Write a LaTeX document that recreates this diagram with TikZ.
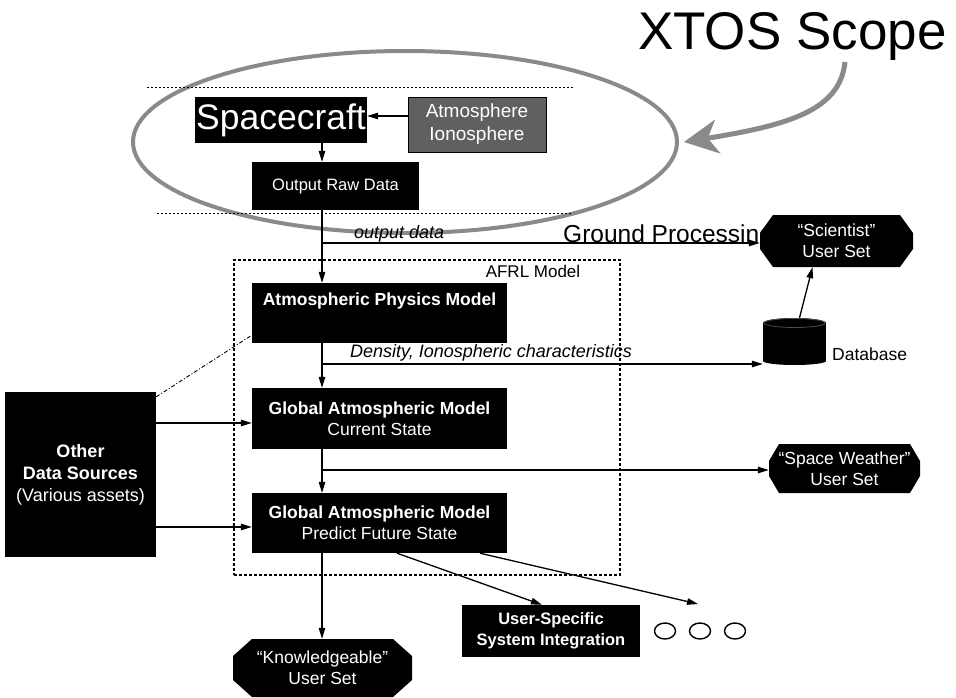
\documentclass[tikz,border=0pt]{standalone}
\usepackage{fontspec}
\setmainfont{Liberation Sans}
\usetikzlibrary{arrows.meta,calc,shapes.geometric}

\definecolor{scopegray}{RGB}{138,138,138}
\definecolor{atmgray}{RGB}{96,96,96}

\tikzset{
  txt/.style={font=\fontsize{17.5}{21}\selectfont},
  blk/.style={fill=black, text=white, inner sep=0pt, align=center, txt},
  usr/.style 2 args={inner sep=0pt, text=white, align=center, txt,
    path picture={\fill[black]
      ([xshift=#1]path picture bounding box.north west) --
      ([xshift=-#1]path picture bounding box.north east) --
      ([yshift=-#2]path picture bounding box.north east) --
      ([yshift=#2]path picture bounding box.south east) --
      ([xshift=-#1]path picture bounding box.south east) --
      ([xshift=#1]path picture bounding box.south west) --
      ([yshift=#2]path picture bounding box.south west) --
      ([yshift=-#2]path picture bounding box.north west) -- cycle;}},
  dbshape/.style={inner sep=0pt,
    path picture={
      \fill[black] ([yshift=-5pt]path picture bounding box.north west)
        rectangle ([yshift=4pt]path picture bounding box.south east);
      \fill[black] ($(path picture bounding box.south)+(0,4pt)$)
        ellipse [x radius=31.5pt, y radius=4pt];
      \fill[black] ($(path picture bounding box.north)+(0,-5pt)$)
        ellipse [x radius=31.5pt, y radius=5pt];
      \draw[black!70, line width=0.8pt] ($(path picture bounding box.north)+(0,-5pt)$)
        ellipse [x radius=30.5pt, y radius=4.5pt];}},
  conn/.style={line width=1.3pt, -{Triangle[length=11pt,width=6.5pt]}},
  ital/.style={font=\fontsize{18}{21}\selectfont\itshape, inner sep=0pt},
  plain/.style={inner sep=0pt},
  dotc/.style={ellipse, draw, line width=1.4pt, minimum width=21pt, minimum height=16pt, inner sep=0pt},
  scopeline/.style={draw=scopegray, line width=4pt},
  scopedot/.style={line width=1pt, dash pattern=on 1.5pt off 2.5pt},
  afrlbox/.style={draw, line width=1.3pt, dash pattern=on 3pt off 2pt, inner sep=0pt},
}

\begin{document}
\begin{tikzpicture}[x=1pt, y=1pt]
  \useasboundingbox (0,0) rectangle (956,-698);
  \fill[white] (0,0) rectangle (956,-698);

  % scope ellipse and its dotted band
  \draw[scopeline] (405,-142) ellipse [x radius=272pt, y radius=91pt];
  \draw[scopedot] (147,-88) -- (573,-88);
  \draw[scopedot] (157,-213) -- (573,-213);

  % title with its pointer
  \node[plain, anchor=base west, font=\fontsize{53}{60}\selectfont] (xtos) at (638,-50) {XTOS Scope};
  \coordinate (xa) at (845,-62);
  \coordinate (xb) at (684,-142);
  \draw[draw=scopegray, line width=5pt, -{Stealth[length=34pt,width=34pt,inset=10pt,fill=scopegray]}]
    (xa) .. controls (840,-110) and (790,-125) .. (xb);

  % AFRL model frame
  \node[afrlbox, minimum width=386pt, minimum height=315pt] (afrl) at (427,-417.5) {};
  \node[plain, anchor=base, font=\fontsize{17}{20}\selectfont] (afrllbl) at (533,-277) {AFRL Model};

  % spacecraft segment
  \node[blk, minimum width=172pt, minimum height=46pt, font=\fontsize{35.5}{40}\selectfont] (sc) at (281,-120) {Spacecraft};
  \node[blk, fill=atmgray, draw=black, line width=0.8pt, minimum width=138pt, minimum height=55pt,
        font=\fontsize{19}{23}\selectfont] (atm) at (477,-124.5) {Atmosphere\\Ionosphere};
  \node[blk, minimum width=167pt, minimum height=48pt, font=\fontsize{16.5}{20}\selectfont] (raw) at (335.5,-186) {Output Raw Data};

  % ground processing chain
  \node[blk, minimum width=255pt, minimum height=60pt] (phys) at (379.5,-313) {\bfseries Atmospheric Physics Model\\\strut};
  \node[blk, minimum width=255pt, minimum height=61pt] (cur) at (379.5,-418.5) {\bfseries Global Atmospheric Model\\Current State};
  \node[blk, minimum width=255pt, minimum height=60pt] (pred) at (379.5,-523) {\bfseries Global Atmospheric Model\\Predict Future State};
  \node[blk, minimum width=151pt, minimum height=165pt, font=\fontsize{18}{22}\selectfont] (other) at (80.5,-474.5)
    {\bfseries Other\\\bfseries Data Sources\\(Various assets)};

  % user sets
  \node[plain, anchor=base west, font=\fontsize{24.5}{28}\selectfont] (ground) at (563,-242) {Ground Processing};
  \node[usr={13pt}{18pt}, minimum width=153pt, minimum height=52pt] (sci) at (836.5,-241) {“Scientist”\\User Set};
  \node[usr={10pt}{17pt}, minimum width=151pt, minimum height=49pt] (space) at (844.5,-468.5) {“Space Weather”\\User Set};
  \node[usr={19pt}{17pt}, minimum width=179pt, minimum height=58pt] (know) at (322.5,-668) {“Knowledgeable”\\User Set};
  \node[blk, minimum width=178pt, minimum height=52pt, font=\fontsize{16.5}{21}\selectfont\bfseries] (us) at (551,-631)
    {User-Specific\\System Integration};

  % database
  \node[dbshape, minimum width=63pt, minimum height=47pt] (db) at (794.5,-341.5) {};
  \node[plain, anchor=base west, txt] (dblbl) at (832,-360) {Database};

  % further outputs
  \node[dotc] (d1) at (665,-631) {};
  \node[dotc] (d2) at (700,-631) {};
  \node[dotc] (d3) at (735,-631) {};
  \coordinate (dotend) at (698,-604);

  % flow labels
  \node[ital, anchor=base west] (outlbl) at (354,-238) {output data};
  \node[ital, anchor=base west] (denslbl) at (350,-357) {Density, Ionospheric characteristics};

  % main data flow
  \coordinate (colx) at (322,0);
  \draw[conn] ([yshift=8.5pt]atm.west) -- ([yshift=8.5pt]atm.west -| sc.east);
  \draw[conn] (colx |- sc.south) -- (colx |- raw.north);
  \draw[conn] (colx |- raw.south) -- (colx |- phys.north);
  \draw[conn] (colx |- phys.south) -- (colx |- cur.north);
  \draw[conn] (colx |- cur.south) -- (colx |- pred.north);
  \draw[conn] (colx |- pred.south) -- (colx |- know.north);

  % branches off the main column
  \coordinate (b1) at (322,-243);
  \coordinate (b2) at (322,-364);
  \coordinate (b3) at (322,-470);
  \draw[conn] (b1) -- (b1 -| sci.west);
  \draw[conn] (b2) -- (b2 -| db.west);
  \draw[conn] (b3) -- (b3 -| space.west);
  \draw[conn] ([xshift=5pt]db.north) -- ([xshift=-24pt]sci.south);

  % other data sources
  \draw[conn] ([yshift=-4.5pt]cur.west -| other.east) -- ([yshift=-4.5pt]cur.west);
  \draw[conn] ([yshift=-4pt]pred.west -| other.east) -- ([yshift=-4pt]pred.west);
  \draw[line width=0.9pt, dash pattern=on 4pt off 2pt on 1pt off 2pt] ([yshift=-5pt]other.north east) -- ([yshift=8pt]phys.south west);

  % predicted state outputs
  \draw[conn] ([xshift=17.5pt]pred.south) -- ([xshift=-9pt]us.north);
  \draw[conn] ([xshift=100.5pt]pred.south) -- (dotend);
\end{tikzpicture}
\end{document}
